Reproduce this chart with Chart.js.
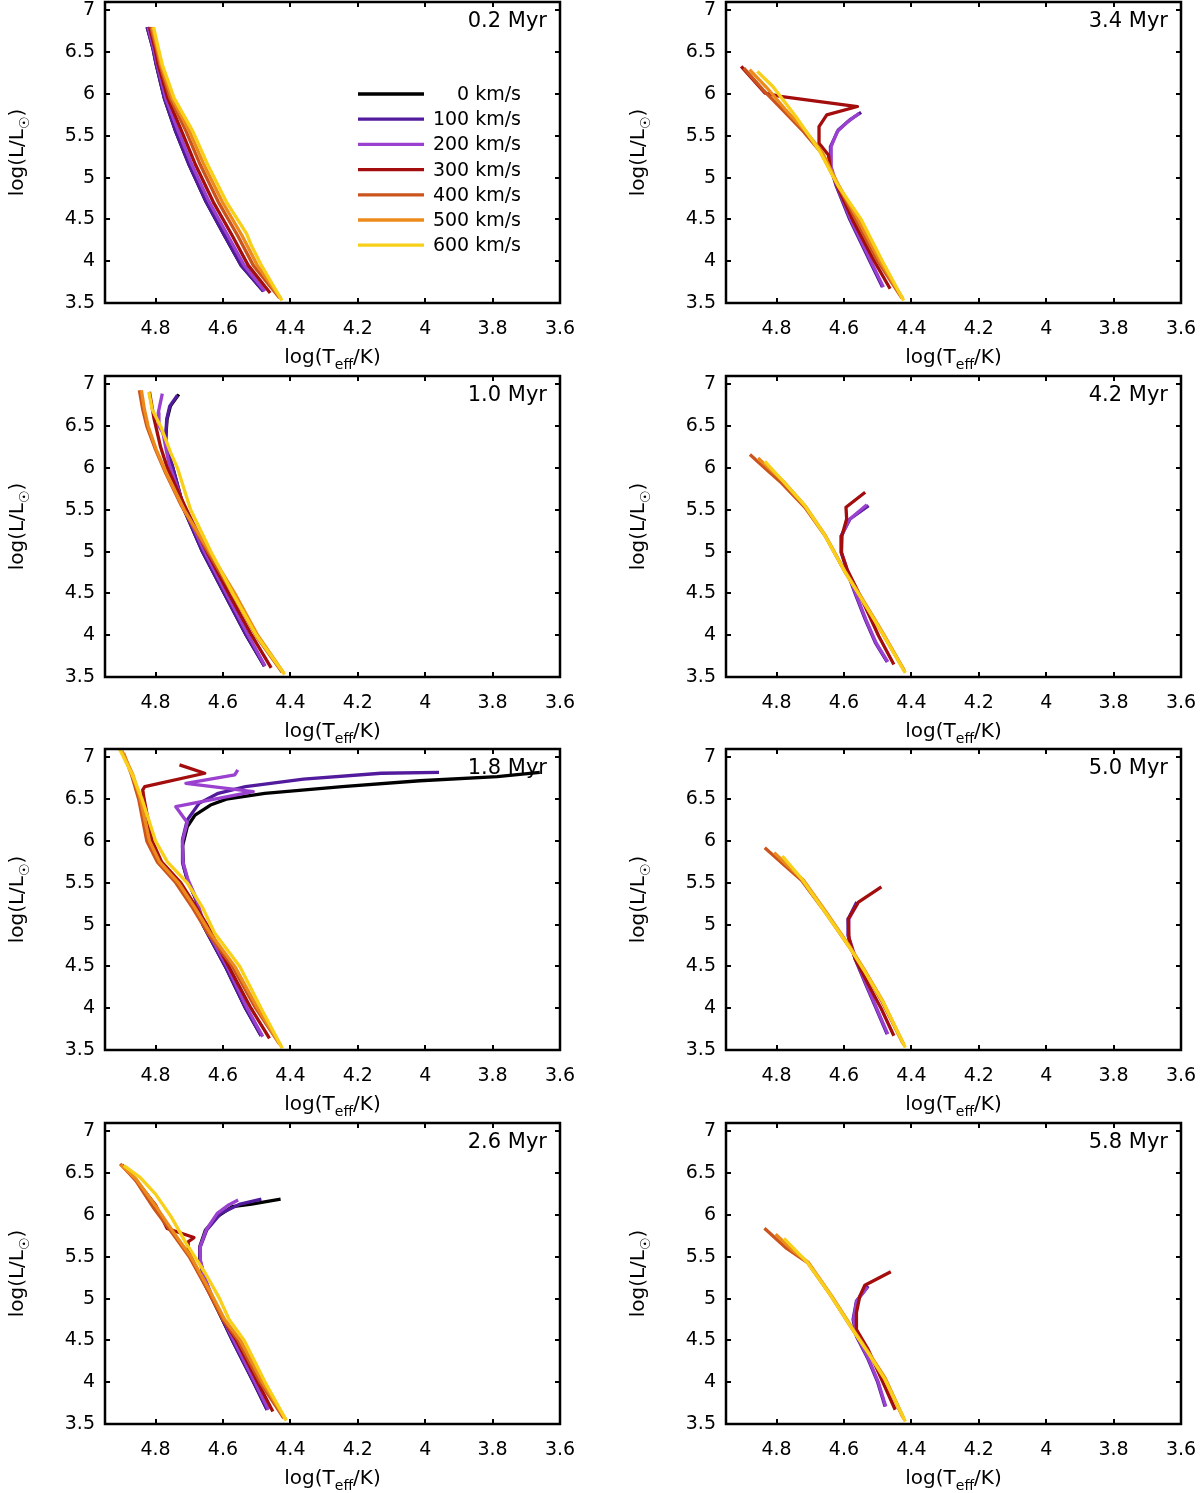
<!DOCTYPE html>
<html>
<head>
<meta charset="utf-8">
<script src="https://cdn.jsdelivr.net/npm/chart.js@4.4.1/dist/chart.umd.min.js"></script>
<style>
html, body { margin: 0; padding: 0; background: #fff; overflow: hidden; }
#wrap { position: relative; width: 1200px; height: 1493px; }
#wrap canvas { position: absolute; }
</style>
</head>
<body>
<div id="wrap"></div>
<script>
// panel labels, left column top->bottom then right column
var ages = ['0.2 Myr', '1.0 Myr', '1.8 Myr', '2.6 Myr', '3.4 Myr', '4.2 Myr', '5.0 Myr', '5.8 Myr'];
var velocities = [0, 100, 200, 300, 400, 500, 600];
var velColors = ['#000000', '#521a9c', '#9a42cf', '#a30d0d', '#cb541c', '#ec8b1b', '#f8cf19'];
var xTicks = [4.8, 4.6, 4.4, 4.2, 4, 3.8, 3.6];
var yTicks = [3.5, 4, 4.5, 5, 5.5, 6, 6.5, 7];

// isochrones: [log Teff, log L]
// 0.2 Myr
var t02_v0   = [[4.825,6.80],[4.808,6.55],[4.798,6.35],[4.774,5.95],[4.740,5.55],[4.700,5.15],[4.650,4.71],[4.596,4.31],[4.546,3.95],[4.480,3.64]];
var t02_v100 = [[4.825,6.80],[4.808,6.55],[4.798,6.35],[4.774,5.95],[4.740,5.55],[4.700,5.15],[4.650,4.71],[4.596,4.31],[4.546,3.95],[4.480,3.64]];
var t02_v200 = [[4.822,6.80],[4.806,6.55],[4.795,6.35],[4.770,5.95],[4.732,5.55],[4.692,5.15],[4.641,4.71],[4.586,4.31],[4.537,3.95],[4.476,3.64]];
var t02_v300 = [[4.818,6.80],[4.802,6.55],[4.792,6.35],[4.764,5.95],[4.722,5.55],[4.681,5.15],[4.629,4.71],[4.573,4.31],[4.525,3.95],[4.460,3.62]];
var t02_v400 = [[4.814,6.80],[4.798,6.55],[4.787,6.35],[4.757,5.95],[4.709,5.55],[4.667,5.15],[4.614,4.71],[4.557,4.31],[4.510,3.95],[4.432,3.56]];
var t02_v500 = [[4.810,6.80],[4.795,6.55],[4.784,6.35],[4.751,5.95],[4.699,5.55],[4.656,5.15],[4.602,4.71],[4.544,4.31],[4.498,3.95],[4.428,3.55]];
var t02_v600 = [[4.806,6.80],[4.792,6.55],[4.780,6.35],[4.745,5.95],[4.689,5.55],[4.645,5.15],[4.590,4.71],[4.530,4.33],[4.516,4.19],[4.486,3.95],[4.425,3.53]];
// 1.0 Myr
var t10_v0   = [[4.731,6.88],[4.756,6.74],[4.766,6.58],[4.770,6.34],[4.765,6.22],[4.750,6.02],[4.715,5.50],[4.661,5.00],[4.596,4.50],[4.531,4.00],[4.477,3.63]];
var t10_v100 = [[4.735,6.87],[4.758,6.74],[4.767,6.58],[4.770,6.34],[4.765,6.22],[4.750,6.02],[4.715,5.50],[4.661,5.00],[4.596,4.50],[4.531,4.00],[4.477,3.63]];
var t10_v200 = [[4.780,6.89],[4.792,6.66],[4.790,6.50],[4.778,6.42],[4.770,6.25],[4.760,6.05],[4.712,5.50],[4.655,5.00],[4.590,4.50],[4.525,4.00],[4.475,3.63]];
var t10_v300 = [[4.818,6.91],[4.805,6.60],[4.785,6.25],[4.765,6.00],[4.708,5.50],[4.648,5.00],[4.583,4.50],[4.515,4.00],[4.457,3.61]];
var t10_v400 = [[4.848,6.93],[4.838,6.70],[4.826,6.50],[4.800,6.22],[4.770,5.94],[4.722,5.54],[4.645,5.00],[4.572,4.50],[4.503,4.00],[4.425,3.56]];
var t10_v500 = [[4.842,6.93],[4.833,6.70],[4.822,6.50],[4.798,6.22],[4.768,5.94],[4.715,5.50],[4.640,5.00],[4.565,4.50],[4.497,4.00],[4.420,3.55]];
var t10_v600 = [[4.820,6.91],[4.810,6.70],[4.785,6.50],[4.755,6.18],[4.735,6.00],[4.696,5.50],[4.636,5.00],[4.571,4.50],[4.501,4.00],[4.417,3.53]];
// 1.8 Myr
var t18_v0   = [[3.660,6.82],[3.786,6.77],[4.016,6.72],[4.246,6.65],[4.476,6.57],[4.590,6.50],[4.637,6.43],[4.683,6.31],[4.706,6.17],[4.720,5.94],[4.717,5.70],[4.706,5.54],[4.680,5.30],[4.660,5.00],[4.593,4.50],[4.533,4.00],[4.487,3.67]];
var t18_v100 = [[3.959,6.82],[4.131,6.81],[4.361,6.74],[4.533,6.65],[4.614,6.57],[4.671,6.45],[4.706,6.25],[4.720,6.02],[4.720,5.74],[4.706,5.54],[4.680,5.30],[4.660,5.00],[4.593,4.50],[4.533,4.00],[4.487,3.67]];
var t18_v200 = [[4.556,6.85],[4.565,6.79],[4.710,6.69],[4.510,6.59],[4.740,6.41],[4.706,6.22],[4.720,6.00],[4.718,5.74],[4.704,5.54],[4.678,5.30],[4.656,5.00],[4.588,4.50],[4.528,4.00],[4.482,3.66]];
var t18_v300 = [[4.729,6.91],[4.654,6.81],[4.832,6.65],[4.838,6.61],[4.834,6.50],[4.810,6.00],[4.782,5.75],[4.725,5.50],[4.678,5.20],[4.648,5.00],[4.583,4.50],[4.517,4.00],[4.462,3.64]];
var t18_v400 = [[4.895,7.05],[4.872,6.80],[4.850,6.50],[4.826,6.00],[4.795,5.75],[4.740,5.50],[4.690,5.20],[4.645,4.90],[4.572,4.50],[4.503,4.00],[4.432,3.57]];
var t18_v500 = [[4.900,7.08],[4.868,6.80],[4.845,6.50],[4.818,6.00],[4.788,5.75],[4.732,5.50],[4.683,5.20],[4.638,4.90],[4.565,4.50],[4.497,4.00],[4.428,3.55]];
var t18_v600 = [[4.907,7.10],[4.870,6.80],[4.840,6.50],[4.800,6.00],[4.765,5.75],[4.706,5.50],[4.660,5.20],[4.625,4.90],[4.550,4.50],[4.487,4.00],[4.424,3.52]];
// 2.6 Myr
var t26_v0   = [[4.429,6.19],[4.515,6.13],[4.572,6.10],[4.617,5.98],[4.652,5.82],[4.669,5.62],[4.669,5.46],[4.657,5.26],[4.634,5.02],[4.572,4.50],[4.509,4.00],[4.469,3.67]];
var t26_v100 = [[4.486,6.19],[4.549,6.13],[4.606,6.02],[4.648,5.82],[4.667,5.62],[4.668,5.46],[4.656,5.26],[4.633,5.02],[4.572,4.50],[4.509,4.00],[4.469,3.67]];
var t26_v200 = [[4.555,6.18],[4.583,6.12],[4.617,6.02],[4.650,5.82],[4.668,5.62],[4.667,5.46],[4.655,5.26],[4.632,5.02],[4.568,4.50],[4.505,4.00],[4.465,3.67]];
var t26_v300 = [[4.900,6.60],[4.855,6.40],[4.800,6.12],[4.766,5.84],[4.737,5.80],[4.686,5.73],[4.703,5.68],[4.703,5.58],[4.686,5.42],[4.645,5.10],[4.600,4.75],[4.560,4.50],[4.497,4.00],[4.452,3.65]];
var t26_v400 = [[4.905,6.61],[4.860,6.42],[4.805,6.08],[4.750,5.78],[4.700,5.50],[4.645,5.10],[4.600,4.75],[4.555,4.50],[4.490,4.00],[4.420,3.57]];
var t26_v500 = [[4.903,6.60],[4.858,6.43],[4.802,6.12],[4.748,5.80],[4.695,5.50],[4.640,5.10],[4.595,4.75],[4.548,4.50],[4.483,4.00],[4.415,3.56]];
var t26_v600 = [[4.894,6.59],[4.846,6.45],[4.800,6.25],[4.754,5.98],[4.709,5.66],[4.652,5.30],[4.610,5.00],[4.582,4.75],[4.537,4.50],[4.475,4.00],[4.412,3.54]];
// 3.4 Myr
var t34_v0   = [];
var t34_v100 = [[4.549,5.78],[4.583,5.69],[4.617,5.57],[4.640,5.37],[4.640,5.13],[4.623,4.90],[4.583,4.50],[4.523,4.00],[4.486,3.69]];
var t34_v200 = [[4.555,5.77],[4.588,5.67],[4.620,5.55],[4.638,5.37],[4.638,5.13],[4.621,4.90],[4.580,4.50],[4.520,4.00],[4.483,3.69]];
var t34_v300 = [[4.905,6.33],[4.834,6.01],[4.789,5.97],[4.560,5.85],[4.651,5.75],[4.674,5.61],[4.674,5.41],[4.646,5.27],[4.640,5.10],[4.620,4.90],[4.575,4.50],[4.510,4.00],[4.463,3.67]];
var t34_v400 = [[4.897,6.31],[4.840,6.05],[4.780,5.80],[4.720,5.55],[4.668,5.30],[4.617,4.90],[4.565,4.50],[4.500,4.00],[4.428,3.56]];
var t34_v500 = [[4.880,6.29],[4.830,6.08],[4.775,5.82],[4.715,5.56],[4.664,5.30],[4.615,4.90],[4.558,4.50],[4.493,4.00],[4.425,3.55]];
var t34_v600 = [[4.857,6.27],[4.811,6.09],[4.743,5.73],[4.674,5.33],[4.617,4.90],[4.549,4.50],[4.486,4.00],[4.423,3.53]];
// 4.2 Myr
var t42_v0   = [];
var t42_v100 = [[4.527,5.55],[4.582,5.39],[4.608,5.19],[4.608,4.99],[4.586,4.71],[4.567,4.50],[4.537,4.19],[4.507,3.91],[4.472,3.68]];
var t42_v200 = [[4.532,5.56],[4.585,5.38],[4.607,5.19],[4.607,4.99],[4.585,4.71],[4.565,4.50],[4.535,4.19],[4.505,3.91],[4.470,3.68]];
var t42_v300 = [[4.537,5.71],[4.594,5.53],[4.592,5.39],[4.606,5.19],[4.608,4.99],[4.591,4.79],[4.547,4.43],[4.497,3.99],[4.452,3.65]];
var t42_v400 = [[4.879,6.16],[4.830,5.98],[4.785,5.82],[4.716,5.53],[4.656,5.19],[4.596,4.75],[4.547,4.43],[4.487,4.03],[4.423,3.59]];
var t42_v500 = [[4.855,6.12],[4.810,5.95],[4.780,5.84],[4.714,5.54],[4.655,5.19],[4.595,4.75],[4.545,4.43],[4.485,4.03],[4.420,3.57]];
var t42_v600 = [[4.835,6.08],[4.785,5.86],[4.716,5.55],[4.656,5.19],[4.596,4.75],[4.547,4.43],[4.487,4.03],[4.418,3.55]];
// 5.0 Myr
var t50_v0   = [];
var t50_v100 = [[4.562,5.27],[4.587,5.07],[4.588,4.87],[4.567,4.59],[4.537,4.30],[4.505,4.00],[4.472,3.69]];
var t50_v200 = [[4.560,5.25],[4.585,5.07],[4.587,4.87],[4.565,4.59],[4.535,4.30],[4.503,4.00],[4.470,3.69]];
var t50_v300 = [[4.489,5.45],[4.557,5.27],[4.587,5.07],[4.585,4.83],[4.567,4.59],[4.530,4.30],[4.490,4.00],[4.452,3.67]];
var t50_v400 = [[4.835,5.92],[4.780,5.72],[4.726,5.53],[4.656,5.15],[4.587,4.75],[4.537,4.43],[4.490,4.10],[4.425,3.58]];
var t50_v500 = [[4.807,5.86],[4.760,5.68],[4.720,5.53],[4.653,5.15],[4.585,4.75],[4.535,4.43],[4.487,4.10],[4.422,3.56]];
var t50_v600 = [[4.783,5.82],[4.726,5.55],[4.656,5.15],[4.587,4.75],[4.537,4.43],[4.485,4.08],[4.418,3.53]];
// 5.8 Myr
var t58_v0   = [];
var t58_v100 = [[4.528,5.15],[4.563,4.97],[4.573,4.75],[4.563,4.55],[4.528,4.27],[4.500,4.00],[4.478,3.71]];
var t58_v200 = [[4.530,5.14],[4.562,4.97],[4.571,4.75],[4.561,4.55],[4.526,4.27],[4.498,4.00],[4.476,3.71]];
var t58_v300 = [[4.461,5.32],[4.538,5.16],[4.553,5.03],[4.563,4.83],[4.563,4.63],[4.528,4.39],[4.490,4.05],[4.448,3.67]];
var t58_v400 = [[4.836,5.84],[4.770,5.60],[4.708,5.43],[4.638,5.03],[4.568,4.59],[4.528,4.35],[4.480,4.05],[4.425,3.58]];
var t58_v500 = [[4.803,5.77],[4.750,5.57],[4.705,5.43],[4.636,5.03],[4.566,4.59],[4.526,4.35],[4.478,4.05],[4.422,3.56]];
var t58_v600 = [[4.778,5.72],[4.708,5.43],[4.638,5.03],[4.568,4.59],[4.528,4.35],[4.478,4.03],[4.418,3.53]];

var panels = [
  [t02_v0, t02_v100, t02_v200, t02_v300, t02_v400, t02_v500, t02_v600],
  [t10_v0, t10_v100, t10_v200, t10_v300, t10_v400, t10_v500, t10_v600],
  [t18_v0, t18_v100, t18_v200, t18_v300, t18_v400, t18_v500, t18_v600],
  [t26_v0, t26_v100, t26_v200, t26_v300, t26_v400, t26_v500, t26_v600],
  [t34_v0, t34_v100, t34_v200, t34_v300, t34_v400, t34_v500, t34_v600],
  [t42_v0, t42_v100, t42_v200, t42_v300, t42_v400, t42_v500, t42_v600],
  [t50_v0, t50_v100, t50_v200, t50_v300, t50_v400, t50_v500, t50_v600],
  [t58_v0, t58_v100, t58_v200, t58_v300, t58_v400, t58_v500, t58_v600]
];

var FONT = '"DejaVu Sans", sans-serif';
var rowTops = [0, 374, 747, 1121];

// text with subscripts, parts = [[text, isSub], ...]
function richText(ctx, parts, x, y, size) {
  var w = 0;
  parts.forEach(function (p) {
    ctx.font = (p[1] ? size * 0.7 : size) + 'px ' + FONT;
    w += ctx.measureText(p[0]).width;
  });
  var cx = x - w / 2;
  parts.forEach(function (p) {
    ctx.font = (p[1] ? size * 0.7 : size) + 'px ' + FONT;
    ctx.fillText(p[0], cx, y + (p[1] ? size * 0.3 : 0));
    cx += ctx.measureText(p[0]).width;
  });
}

var framePlugin = {
  id: 'frame',
  afterDraw: function (chart, args, opts) {
    var ctx = chart.ctx, a = chart.chartArea;
    var xs = chart.scales.x, ys = chart.scales.y;
    ctx.save();
    ctx.strokeStyle = '#000';
    ctx.fillStyle = '#000';
    // inward ticks on all four sides
    ctx.lineWidth = 2;
    ctx.beginPath();
    xTicks.forEach(function (v) {
      var px = Math.round(xs.getPixelForValue(v));
      ctx.moveTo(px, a.bottom); ctx.lineTo(px, a.bottom - 5);
      ctx.moveTo(px, a.top); ctx.lineTo(px, a.top + 5);
    });
    yTicks.forEach(function (v) {
      var py = Math.round(ys.getPixelForValue(v));
      ctx.moveTo(a.left, py); ctx.lineTo(a.left + 5, py);
      ctx.moveTo(a.right, py); ctx.lineTo(a.right - 5, py);
    });
    ctx.stroke();
    ctx.lineWidth = 2.5;
    ctx.strokeRect(a.left, a.top, a.right - a.left, a.bottom - a.top);

    // axis titles
    ctx.textBaseline = 'alphabetic';
    ctx.textAlign = 'left';
    richText(ctx, [['log(T', 0], ['eff', 1], ['/K)', 0]], (a.left + a.right) / 2, a.bottom + 60, 20);
    ctx.save();
    ctx.translate(a.left - 82, (a.top + a.bottom) / 2);
    ctx.rotate(-Math.PI / 2);
    richText(ctx, [['log(L/L', 0], ['\u2609', 1], [')', 0]], 0, 0, 20);
    ctx.restore();

    // age label
    ctx.font = '21px ' + FONT;
    ctx.textAlign = 'right';
    ctx.fillText(opts.label, a.right - 13, a.top + 25);

    // key
    if (opts.legend) {
      ctx.font = '19px ' + FONT;
      ctx.textBaseline = 'middle';
      velocities.forEach(function (v, k) {
        var y = a.top + 92 + k * 25.2;
        ctx.strokeStyle = velColors[k];
        ctx.lineWidth = 3.3;
        ctx.beginPath();
        ctx.moveTo(a.left + 253, y); ctx.lineTo(a.left + 319, y);
        ctx.stroke();
        ctx.fillStyle = '#000';
        ctx.fillText(v + ' km/s', a.left + 416, y + 1);
      });
    }
    ctx.restore();
  }
};

var wrap = document.getElementById('wrap');
panels.forEach(function (tracks, i) {
  var col = i < 4 ? 0 : 1, row = i % 4;
  var c = document.createElement('canvas');
  var w = col === 0 ? 600 : 579;
  c.width = w; c.height = 374;
  c.style.left = (col === 0 ? 0 : 621) + 'px';
  c.style.top = rowTops[row] + 'px';
  c.style.width = w + 'px'; c.style.height = '374px';
  wrap.appendChild(c);

  // last dataset in the list is drawn underneath, so 600 km/s goes first
  var ds = [];
  for (var k = tracks.length - 1; k >= 0; k--) {
    ds.push({
      label: velocities[k] + ' km/s',
      data: tracks[k].map(function (p) { return { x: p[0], y: p[1] }; }),
      showLine: true,
      borderColor: velColors[k],
      backgroundColor: velColors[k],
      borderWidth: 3.3,
      pointRadius: 0,
      fill: false
    });
  }

  var tickFont = { family: FONT, size: 19 };
  new Chart(c, {
    type: 'scatter',
    data: { datasets: ds },
    options: {
      responsive: false,
      animation: false,
      layout: { padding: { top: 2, right: col === 0 ? 40 : 19, left: 0, bottom: 0 } },
      elements: { line: { tension: 0, borderJoinStyle: 'round' } },
      plugins: {
        legend: { display: false },
        tooltip: { enabled: false },
        frame: { label: ages[i], legend: i === 0 }
      },
      scales: {
        x: {
          type: 'linear', reverse: true, min: 3.6, max: 4.95,
          grid: { display: false, drawTicks: false },
          border: { display: false },
          afterBuildTicks: function (s) { s.ticks = xTicks.map(function (v) { return { value: v }; }); },
          afterFit: function (s) { s.height = 71; s.paddingLeft = 0; s.paddingRight = 0; },
          ticks: { color: '#000', font: tickFont, padding: 15, maxRotation: 0, autoSkip: false,
                   callback: function (v) { return String(v); } }
        },
        y: {
          type: 'linear', min: 3.5, max: 7.1,
          grid: { display: false, drawTicks: false },
          border: { display: false },
          afterBuildTicks: function (s) { s.ticks = yTicks.map(function (v) { return { value: v }; }); },
          afterFit: function (s) { s.width = 105; s.paddingTop = 0; s.paddingBottom = 0; },
          ticks: { color: '#000', font: tickFont, padding: 10, autoSkip: false,
                   callback: function (v) { return String(v); } }
        }
      }
    },
    plugins: [framePlugin]
  });
});
</script>
</body>
</html>
